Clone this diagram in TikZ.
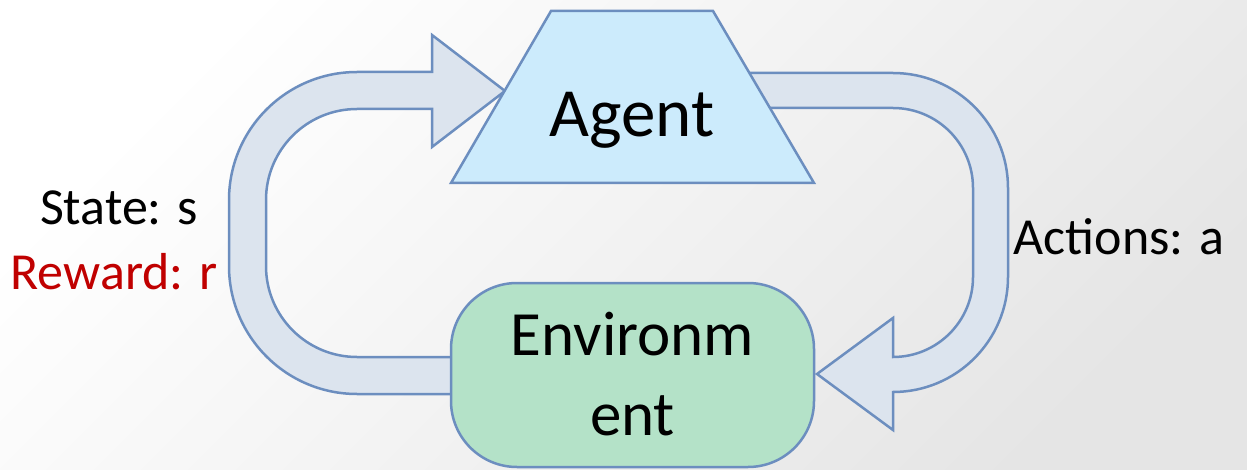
\documentclass[tikz,border=0pt]{standalone}
\usepackage{fontspec}
\setmainfont{Carlito}
\definecolor{edge}{HTML}{6C8EBF}
\definecolor{bandfill}{HTML}{DCE4EE}
\definecolor{agentfill}{HTML}{CCEBFC}
\definecolor{envfill}{HTML}{B4E2C8}
\definecolor{rewardred}{HTML}{C00000}
\begin{document}
\begin{tikzpicture}[x=1pt,y=1pt,
  band/.style={draw=edge, fill=bandfill, line width=2.5pt, line join=miter},
  shapeline/.style={draw=edge, line width=2.5pt},
  bigtxt/.style={anchor=base, inner sep=0pt, font=\fontsize{69}{80}\selectfont},
  envtxt/.style={anchor=base, inner sep=0pt, font=\fontsize{63}{76}\selectfont},
  sidetxt/.style={anchor=base, inner sep=0pt, font=\fontsize{52}{60}\selectfont}]
\useasboundingbox (0,0) rectangle (1247,469);
\shade[top color=white, bottom color=black!10, shading angle=45] (0,0) rectangle (1247,469);
% left feedback arrow (state / reward)
\draw[band] (470,75) -- (357,75) arc (270:180:128) -- (229,269) arc (180:90:128)
  -- (432,397) -- (432,434) -- (505,378) -- (432,322) -- (432,360) -- (357,360)
  arc (90:180:91) -- (266,203) arc (180:270:91) -- (470,112) -- cycle;
% right arrow (actions)
\draw[band] (730,396) -- (893,396) arc (90:0:115) -- (1008,192) arc (0:-90:115)
  -- (893,39) -- (817,95) -- (893,151) -- (893,112) arc (-90:0:80) -- (973,281)
  arc (0:90:80) -- (730,361) -- cycle;
% agent
\draw[shapeline, fill=agentfill, line join=miter] (551,458) -- (713,458) -- (814,286) -- (451,286) -- cycle;
\node[bigtxt] (agent) at (632,332) {Agent};
% environment
\node[shapeline, fill=envfill, rounded corners=66pt, minimum width=363pt, minimum height=184pt, inner sep=0pt] (env) at (632.5,94) {};
\node[envtxt] (env1) at (632.5,114) {Environm};
\node[envtxt] (env2) at (632.5,34) {ent};
% labels
\node[sidetxt] (state) at (119,244) {State: s};
\node[sidetxt, text=rewardred] (reward) at (114,179) {Reward: r};
\node[sidetxt] (actions) at (1119,214) {Actions: a};
\end{tikzpicture}
\end{document}
